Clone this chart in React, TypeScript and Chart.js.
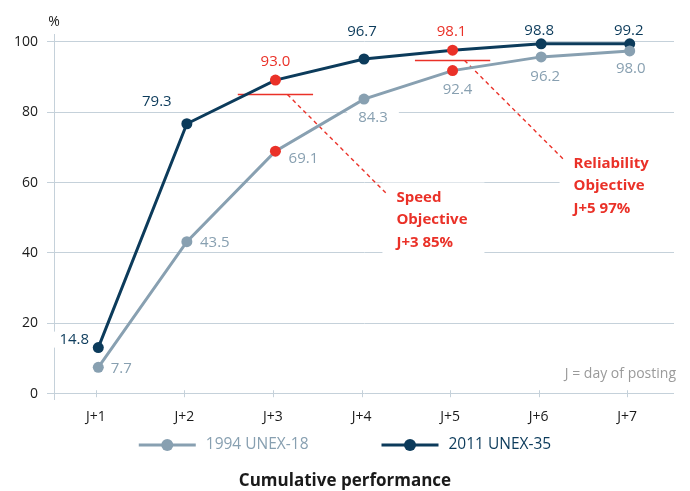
import React, { useEffect, useRef } from "react";
import { Chart, registerables } from "chart.js";

Chart.register(...registerables);

// ---- data ----
const categories = ["J+1", "J+2", "J+3", "J+4", "J+5", "J+6", "J+7"];
const seriesNames = ["1994 UNEX-18", "2011 UNEX-35"];
const series1994 = [7.5, 43.2, 68.9, 83.7, 91.8, 95.7, 97.4];
const labels1994 = ["7.7", "43.5", "69.1", "84.3", "92.4", "96.2", "98.0"];
const series2011 = [13.1, 76.7, 89.1, 95.1, 97.6, 99.4, 99.4];
const labels2011 = ["14.8", "79.3", "93.0", "96.7", "98.1", "98.8", "99.2"];
const yTicks = [0, 20, 40, 60, 80, 100];
const highlightIdx = [2, 4];
const objectiveDays = [3, 5];
const objectiveLevels = [85, 94.7];
const objectiveTexts = [
  ["Speed", "Objective", "J+3 85%"],
  ["Reliability", "Objective", "J+5 97%"],
];
const footNote = "J = day of posting";
const unitLabel = "%";
const chartTitle = "Cumulative performance";

// ---- styles ----
const FONT = "'Open Sans', 'Noto Sans', sans-serif";
const NAVY = "#0c3b5b";
const GRAY = "#88a0b1";
const RED = "#ea3128";
const GRID = "#c5d1da";
const TEXT = "#1a1a1a";
const off1994 = [[23, 1], [28, 1], [28, 8], [9, 19], [5, 19], [4, 20], [1, 18]];
const off2011 = [[-24, -8], [-30, -22], [0, -18], [-2, -27], [-1, -18], [-2, -13], [-1, -13]];

const pointColors = (base: string, n: number) =>
  Array.from({ length: n }, (_, i) => (highlightIdx.includes(i) ? RED : base));

const annotPlugin = {
  id: "annot",
  beforeDatasetsDraw(chart: any) {
    const ctx = chart.ctx;
    const xs = chart.scales.x;
    const ys = chart.scales.y;
    ctx.save();
    // white label boxes (cover gridlines)
    ctx.font = `15px ${FONT}`;
    const sets = [
      { vals: series1994, labs: labels1994, offs: off1994 },
      { vals: series2011, labs: labels2011, offs: off2011 },
    ];
    ctx.fillStyle = "#ffffff";
    sets.forEach((s) => {
      s.vals.forEach((v, i) => {
        const px = xs.getPixelForValue(i + 1) + s.offs[i][0];
        const py = ys.getPixelForValue(v) + s.offs[i][1];
        const w = ctx.measureText(s.labs[i]).width + 22;
        ctx.fillRect(px - w / 2, py - 8, w, 16);
      });
    });
    // objective boxes, lines
    objectiveDays.forEach((d, k) => {
      const cx = xs.getPixelForValue(d);
      const cy = ys.getPixelForValue(objectiveLevels[k]);
      const sx = cx + 12;
      const ex = sx + 100;
      const ey = cy + 100;
      ctx.fillStyle = "#ffffff";
      ctx.fillRect(ex - 5, ey - 12, k === 0 ? 102 : 130, 75);
      ctx.strokeStyle = RED;
      ctx.lineWidth = 1.5;
      ctx.setLineDash([]);
      ctx.beginPath();
      ctx.moveTo(xs.getPixelForValue(d - 0.425), cy);
      ctx.lineTo(xs.getPixelForValue(d + 0.425), cy);
      ctx.stroke();
      ctx.lineWidth = 1.4;
      ctx.setLineDash([4, 3.5]);
      ctx.beginPath();
      ctx.moveTo(sx, cy);
      ctx.lineTo(ex, ey);
      ctx.stroke();
      ctx.setLineDash([]);
    });
    // x tick marks crossing the baseline
    const y0 = ys.getPixelForValue(0);
    ctx.strokeStyle = GRID;
    ctx.lineWidth = 1;
    xs.ticks.forEach((t: any) => {
      const x = Math.round(xs.getPixelForValue(t.value)) + 0.5;
      ctx.beginPath();
      ctx.moveTo(x, y0 - 3.5);
      ctx.lineTo(x, y0 + 3.5);
      ctx.stroke();
    });
    ctx.restore();
  },
  afterDatasetsDraw(chart: any) {
    const ctx = chart.ctx;
    const xs = chart.scales.x;
    const ys = chart.scales.y;
    ctx.save();
    ctx.textAlign = "center";
    ctx.textBaseline = "middle";
    ctx.font = `15px ${FONT}`;
    const sets = [
      { vals: series1994, labs: labels1994, offs: off1994, color: GRAY, hl: false },
      { vals: series2011, labs: labels2011, offs: off2011, color: NAVY, hl: true },
    ];
    sets.forEach((s) => {
      s.vals.forEach((v, i) => {
        const px = xs.getPixelForValue(i + 1) + s.offs[i][0];
        const py = ys.getPixelForValue(v) + s.offs[i][1];
        ctx.fillStyle = s.hl && highlightIdx.includes(i) ? RED : s.color;
        ctx.fillText(s.labs[i], px, py);
      });
    });
    // objective texts
    ctx.textAlign = "left";
    ctx.font = `bold 15px ${FONT}`;
    ctx.fillStyle = RED;
    objectiveDays.forEach((d, k) => {
      const cx = xs.getPixelForValue(d);
      const cy = ys.getPixelForValue(objectiveLevels[k]);
      const ex = cx + 12 + 100;
      const ey = cy + 100;
      objectiveTexts[k].forEach((line, j) => {
        ctx.fillText(line, ex + 9, ey + 3 + j * 22.5);
      });
    });
    // footnote
    ctx.font = `14px ${FONT}`;
    ctx.fillStyle = "#9a9a9a";
    ctx.textAlign = "right";
    ctx.fillText(footNote, chart.chartArea.right + 2, ys.getPixelForValue(0) - 20);
    // unit
    ctx.fillStyle = TEXT;
    ctx.textAlign = "center";
    ctx.fillText(unitLabel, chart.chartArea.left, 22);
    // legend
    const ly = 445;
    ctx.font = `15.5px ${FONT}`;
    const items = [
      { name: seriesNames[0], color: GRAY },
      { name: seriesNames[1], color: NAVY },
    ];
    const lineW = 57;
    const gapTxt = 10;
    const gapItem = 73;
    const widths = items.map((it) => lineW + gapTxt + ctx.measureText(it.name).width);
    const total = widths[0] + widths[1] + gapItem;
    let x = chart.width / 2 - total / 2;
    items.forEach((it, i) => {
      ctx.strokeStyle = it.color;
      ctx.lineWidth = 3;
      ctx.beginPath();
      ctx.moveTo(x, ly);
      ctx.lineTo(x + lineW, ly);
      ctx.stroke();
      ctx.fillStyle = it.color;
      ctx.beginPath();
      ctx.arc(x + lineW / 2, ly, 6, 0, Math.PI * 2);
      ctx.fill();
      ctx.textAlign = "left";
      ctx.fillText(it.name, x + lineW + gapTxt, ly);
      x += widths[i] + gapItem;
    });
    // title
    ctx.font = `bold 17px ${FONT}`;
    ctx.fillStyle = TEXT;
    ctx.textAlign = "center";
    ctx.fillText(chartTitle, chart.width / 2, 481);
    ctx.restore();
  },
};

export default function App() {
  const ref = useRef<HTMLCanvasElement | null>(null);
  useEffect(() => {
    if (!ref.current) return;
    const chart = new Chart(ref.current, {
      type: "line",
      data: {
        datasets: [
          {
            label: seriesNames[0],
            data: categories.map((_, i) => ({ x: i + 1, y: series1994[i] })),
            borderColor: GRAY,
            backgroundColor: GRAY,
            pointBackgroundColor: pointColors(GRAY, categories.length),
            pointBorderColor: pointColors(GRAY, categories.length),
            pointBorderWidth: 0,
            pointRadius: 5.5,
            borderWidth: 3,
            tension: 0,
          },
          {
            label: seriesNames[1],
            data: categories.map((_, i) => ({ x: i + 1, y: series2011[i] })),
            borderColor: NAVY,
            backgroundColor: NAVY,
            pointBackgroundColor: pointColors(NAVY, categories.length),
            pointBorderColor: pointColors(NAVY, categories.length),
            pointBorderWidth: 0,
            pointRadius: 5.5,
            borderWidth: 3,
            tension: 0,
          },
        ],
      },
      options: {
        animation: false,
        responsive: false,
        devicePixelRatio: 1,
        layout: { padding: { top: 34, right: 16, left: 0, bottom: 0 } },
        plugins: { legend: { display: false }, title: { display: false }, tooltip: { enabled: false } },
        scales: {
          x: {
            type: "linear",
            min: 0.5,
            max: 7.5,
            afterBuildTicks: (s: any) => {
              s.ticks = categories.map((_, i) => ({ value: i + 1 - 0.028 }));
            },
            afterFit: (s: any) => {
              s.height = 92;
            },
            grid: { display: false },
            border: { display: false },
            ticks: {
              callback: (_v: any, i: number) => categories[i],
              font: { family: FONT, size: 14 },
              color: TEXT,
              padding: 2,
              maxRotation: 0,
              autoSkip: false,
            },
          },
          y: {
            min: -1.5,
            max: 102.2,
            afterBuildTicks: (s: any) => {
              s.ticks = yTicks.map((v) => ({ value: v }));
            },
            afterFit: (s: any) => {
              s.width = 54;
            },
            grid: { color: GRID, tickLength: 7, lineWidth: 1 },
            border: { display: true, color: GRID },
            ticks: {
              font: { family: FONT, size: 14 },
              color: TEXT,
              padding: 9,
            },
          },
        },
      },
      plugins: [annotPlugin],
    });
    return () => chart.destroy();
  }, []);
  return (
    <div style={{ position: "fixed", left: 0, top: 0, width: 690, height: 491, background: "#fff" }}>
      <canvas ref={ref} width={690} height={491} />
    </div>
  );
}
